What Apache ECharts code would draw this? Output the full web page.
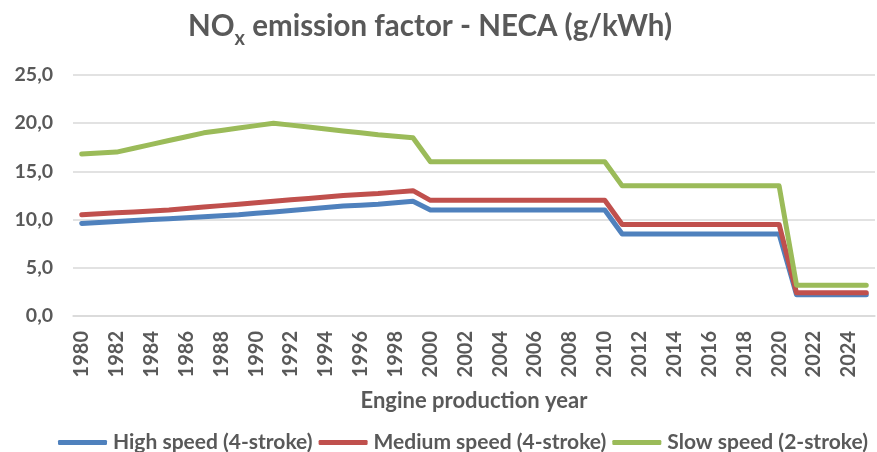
<!DOCTYPE html>
<html>
<head>
<meta charset="utf-8">
<script src="https://cdn.jsdelivr.net/npm/echarts@6/dist/echarts.min.js"></script>
<style>
  html, body { margin: 0; padding: 0; background: #fff; }
  #chart { width: 877px; height: 452px; }
</style>
</head>
<body>
<div id="chart"></div>
<script>
// engine production years 1980 .. 2025
const years = []
for (let y = 1980; y <= 2025; y++) years.push(String(y))

// g/kWh, one value per year
const highSpeed = [
    9.6, 9.7, 9.8, 9.9, 10.0, 10.1, 10.2, 10.3, 10.4, 10.5,
    10.65, 10.8, 10.95, 11.1, 11.25, 11.4, 11.5, 11.6, 11.75, 11.9,
    11.0, 11.0, 11.0, 11.0, 11.0, 11.0, 11.0, 11.0, 11.0, 11.0, 11.0,
    8.5, 8.5, 8.5, 8.5, 8.5, 8.5, 8.5, 8.5, 8.5, 8.5,
    2.2, 2.2, 2.2, 2.2, 2.2
]
const mediumSpeed = [
    10.5, 10.6, 10.7, 10.8, 10.9, 11.0, 11.15, 11.3, 11.45, 11.6,
    11.75, 11.9, 12.05, 12.2, 12.35, 12.5, 12.6, 12.7, 12.85, 13.0,
    12.0, 12.0, 12.0, 12.0, 12.0, 12.0, 12.0, 12.0, 12.0, 12.0, 12.0,
    9.5, 9.5, 9.5, 9.5, 9.5, 9.5, 9.5, 9.5, 9.5, 9.5,
    2.4, 2.4, 2.4, 2.4, 2.4
]
const slowSpeed = [
    16.8, 16.9, 17.0, 17.4, 17.8, 18.2, 18.6, 19.0, 19.25, 19.5,
    19.75, 20.0, 19.8, 19.6, 19.4, 19.2, 19.0, 18.8, 18.65, 18.5,
    16.0, 16.0, 16.0, 16.0, 16.0, 16.0, 16.0, 16.0, 16.0, 16.0, 16.0,
    13.5, 13.5, 13.5, 13.5, 13.5, 13.5, 13.5, 13.5, 13.5, 13.5,
    3.2, 3.2, 3.2, 3.2, 3.2
]

const seriesNames = ['High speed (4-stroke)', 'Medium speed (4-stroke)', 'Slow speed (2-stroke)']
const seriesColors = ['#4F81BD', '#C0504D', '#9BBB59']

const font = 'Lato, "Noto Sans", sans-serif'
const textColor = '#595959'

const chart = echarts.init(document.getElementById('chart'), null, { renderer: 'canvas' })

chart.setOption({
    animation: false,
    color: seriesColors,
    title: {
        text: '{main|NO}{sub|x}{main| emission factor - NECA (g/kWh)}',
        left: 183,
        top: 6,
        textStyle: {
            rich: {
                main: {
                    fontFamily: font,
                    fontSize: 29.5,
                    fontWeight: 'bold',
                    color: textColor,
                    lineHeight: 36,
                    verticalAlign: 'top',
                },
                sub: {
                    fontFamily: font,
                    fontSize: 20,
                    fontWeight: 'bold',
                    color: textColor,
                    lineHeight: 22,
                    verticalAlign: 'top',
                    padding: [18, 0, 0, 0],
                },
            },
        },
    },
    legend: {
        data: seriesNames,
        left: 53,
        top: 427,
        icon: 'roundRect',
        itemWidth: 49,
        itemHeight: 5,
        itemGap: 6,
        textStyle: {
            fontFamily: font,
            fontSize: 21,
            fontWeight: 'bold',
            color: textColor,
            padding: [0, 0, 0, 1],
        },
    },
    grid: {
        top: 75,
        right: 2,
        bottom: 136,
        left: 73,
    },
    xAxis: {
        type: 'category',
        data: years,
        boundaryGap: true,
        name: 'Engine production year',
        nameLocation: 'middle',
        nameGap: 74,
        nameTextStyle: {
            fontFamily: font,
            fontSize: 22,
            fontWeight: 'bold',
            color: textColor,
        },
        axisLine: { lineStyle: { color: '#D9D9D9', width: 1.5 } },
        axisTick: { show: false },
        axisLabel: {
            interval: 1,
            rotate: 90,
            margin: 15,
            fontFamily: font,
            fontSize: 20,
            fontWeight: 'bold',
            color: textColor,
        },
    },
    yAxis: {
        type: 'value',
        min: 0,
        max: 25,
        interval: 5,
        axisLine: { show: false },
        axisTick: { show: false },
        splitLine: { lineStyle: { color: '#D9D9D9', width: 1.5 } },
        axisLabel: {
            margin: 20,
            fontFamily: font,
            fontSize: 19.5,
            fontWeight: 'bold',
            color: textColor,
            formatter: (v) => v.toFixed(1).replace('.', ','),
        },
    },
    series: [
        { name: seriesNames[0], type: 'line', data: highSpeed },
        { name: seriesNames[1], type: 'line', data: mediumSpeed },
        { name: seriesNames[2], type: 'line', data: slowSpeed },
    ].map(s => Object.assign(s, {
        showSymbol: false,
        symbol: 'none',
        lineStyle: { width: 5, cap: 'round', join: 'round' },
    })),
})
</script>
</body>
</html>
